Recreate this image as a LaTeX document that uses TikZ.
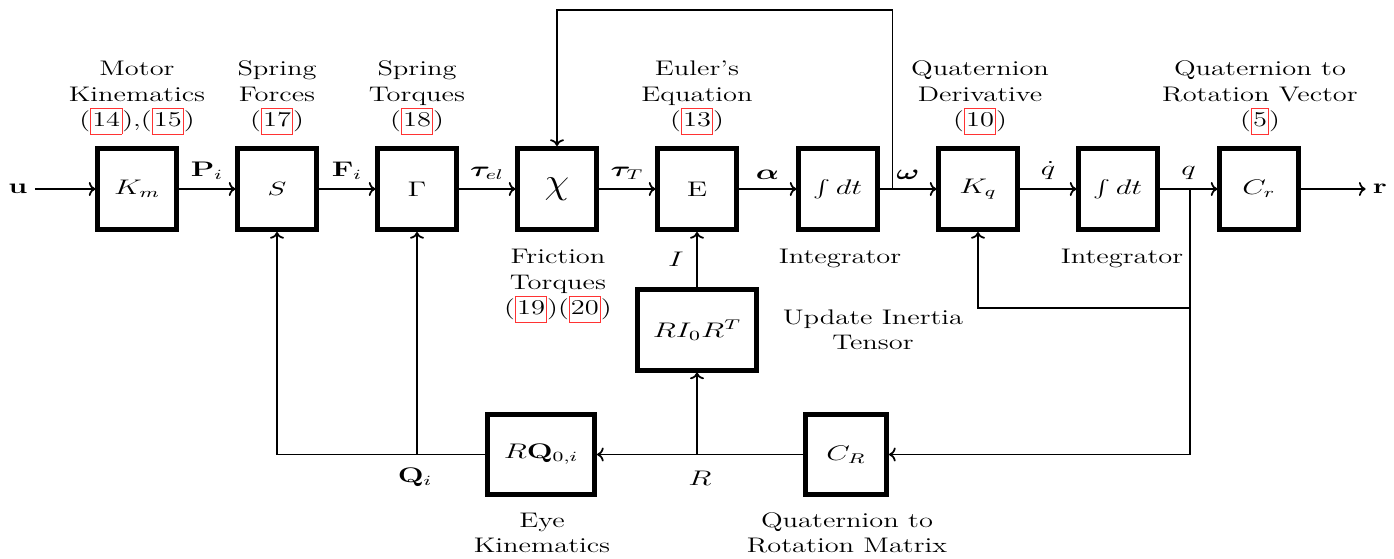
\documentclass[12pt,tikz,border=0pt]{standalone}
\usepackage[no-math]{fontspec}
\setmainfont{Latin Modern Roman}[FakeStretch=1.35]
\usepackage{tikz}
\usetikzlibrary{arrows.meta, positioning, calc}
\usepackage{xcolor}
\usepackage{bm}
\usepackage{graphicx}

\newcommand{\eqlink}[1]{{\setlength{\fboxsep}{0pt}\setlength{\fboxrule}{0.4pt}\textcolor{red!80}{\fbox{\textcolor{black}{\strut\kern0.8pt#1\kern0.8pt}}}}}
\newcommand{\wide}[1]{\scalebox{1.45}[1]{#1}}

\begin{document}
\begin{tikzpicture}[
    box/.style={
        draw,
        line width=2.6pt,
        align=center,
        minimum width=1.57cm,
        minimum height=1.63cm,
        inner sep=2pt
    },
    arrow/.style={
        ->,
        line width=1pt
    },
    link/.style={
        line width=1pt
    },
    caption/.style={
        align=center
    }
]
\useasboundingbox (0,0) rectangle (27.88,-11.18);

% forward chain
\node (u) at (0.36,-3.78) {\wide{$\mathbf{u}$}};
\node[box] (km) at (2.74,-3.78) {\wide{$K_m$}};
\node[box] (spring) at (5.54,-3.78) {\wide{\small$S$}};
\node[box] (gam) at (8.34,-3.78) {\wide{$\Gamma$}};
\node[box] (chi) at (11.14,-3.78) {\scalebox{1.1}[1]{\LARGE$\chi$}};
\node[box] (euler) at (13.94,-3.78) {\wide{$\mathrm{E}$}};
\node[box] (intw) at (16.76,-3.78) {\wide{$\int dt$}};
\node[box] (kq) at (19.56,-3.78) {\wide{$K_q$}};
\node[box] (intq) at (22.36,-3.78) {\wide{$\int dt$}};
\node[box] (cr) at (25.18,-3.78) {\wide{$C_r$}};
\node (r) at (27.6,-3.78) {\wide{$\mathbf{r}$}};

% feedback blocks
\node[box, minimum width=2.38cm, minimum height=1.61cm] (inertia) at (13.94,-6.6) {\wide{$RI_0R^T$}};
\node[box, minimum width=2.15cm, minimum height=1.61cm] (rq) at (10.82,-9.09) {\wide{$R\mathbf{Q}_{0,i}$}};
\node[box, minimum width=1.63cm, minimum height=1.61cm] (cbig) at (16.92,-9.09) {\wide{$C_R$}};

% captions
\node[caption] (capkm) at (2.74,-1.96) {Motor\\Kinematics\\(\eqlink{14}),(\eqlink{15})};
\node[caption] (capspring) at (5.54,-1.96) {Spring\\Forces\\(\eqlink{17})};
\node[caption] (capgam) at (8.34,-1.96) {Spring\\Torques\\(\eqlink{18})};
\node[caption] (capeuler) at (13.94,-1.96) {Euler's\\Equation\\(\eqlink{13})};
\node[caption] (capkq) at (19.6,-1.96) {Quaternion\\Derivative\\(\eqlink{10})};
\node[caption] (capcr) at (25.2,-1.96) {Quaternion to\\Rotation Vector\\(\eqlink{5})};
\node[caption] (capchi) at (11.16,-5.72) {Friction\\Torques\\(\eqlink{19})(\eqlink{20})};
\node[caption] (capintw) at (16.8,-5.16) {Integrator};
\node[caption] (capintq) at (22.44,-5.16) {Integrator};
\node[caption] (capinertia) at (17.46,-6.6) {Update Inertia\\Tensor};
\node[caption] (caprq) at (10.84,-10.66) {Eye\\Kinematics};
\node[caption] (capcbig) at (16.94,-10.66) {Quaternion to\\Rotation Matrix};

% junctions
\coordinate (wj) at (17.85,-3.78);
\coordinate (wtop) at (17.85,-0.2);
\coordinate (qj) at (23.8,-3.78);
\coordinate (kqj) at (23.8,-6.16);
\coordinate (rj) at (13.94,-9.09);
\coordinate (qij) at (8.34,-9.09);

\draw[arrow] (u) -- (km);
\draw[arrow] (km) -- node[above=1pt] {\wide{$\mathbf{P}_i$}} (spring);
\draw[arrow] (spring) -- node[above=1pt] {\wide{$\mathbf{F}_i$}} (gam);
\draw[arrow] (gam) -- node[above=1pt] {\wide{$\bm{\tau}_{el}$}} (chi);
\draw[arrow] (chi) -- node[above=1pt] {\wide{$\bm{\tau}_T$}} (euler);
\draw[arrow] (euler) -- node[above=1pt] {\wide{$\bm{\alpha}$}} (intw);
\draw[arrow] (intw) -- node[above=1pt] {\wide{$\bm{\omega}$}} (kq);
\draw[arrow] (kq) -- node[above=1pt] {\wide{$\dot{q}$}} (intq);
\draw[arrow] (intq) -- node[above=1pt] {\wide{$q$}} (cr);
\draw[arrow] (cr) -- (r);

\draw[arrow] (wj) -- (wtop) -| (chi.north);
\draw[arrow] (kqj) -| (kq.south);
\draw[link] (qj) -- (kqj);
\draw[arrow] (kqj) |- (cbig.east);
\draw[arrow] (cbig) -- (rq);
\draw[arrow] (rj) -- (inertia);
\draw[arrow] (inertia) -- node[left=3pt] {\wide{$I$}} (euler);
\draw[arrow] (rq.west) -| (spring.south);
\draw[arrow] (qij) -- (gam);

\node (rlbl) at (14.0,-9.56) {\wide{$R$}};
\node (qilbl) at (8.3,-9.54) {\wide{$\mathbf{Q}_i$}};

\end{tikzpicture}
\end{document}
